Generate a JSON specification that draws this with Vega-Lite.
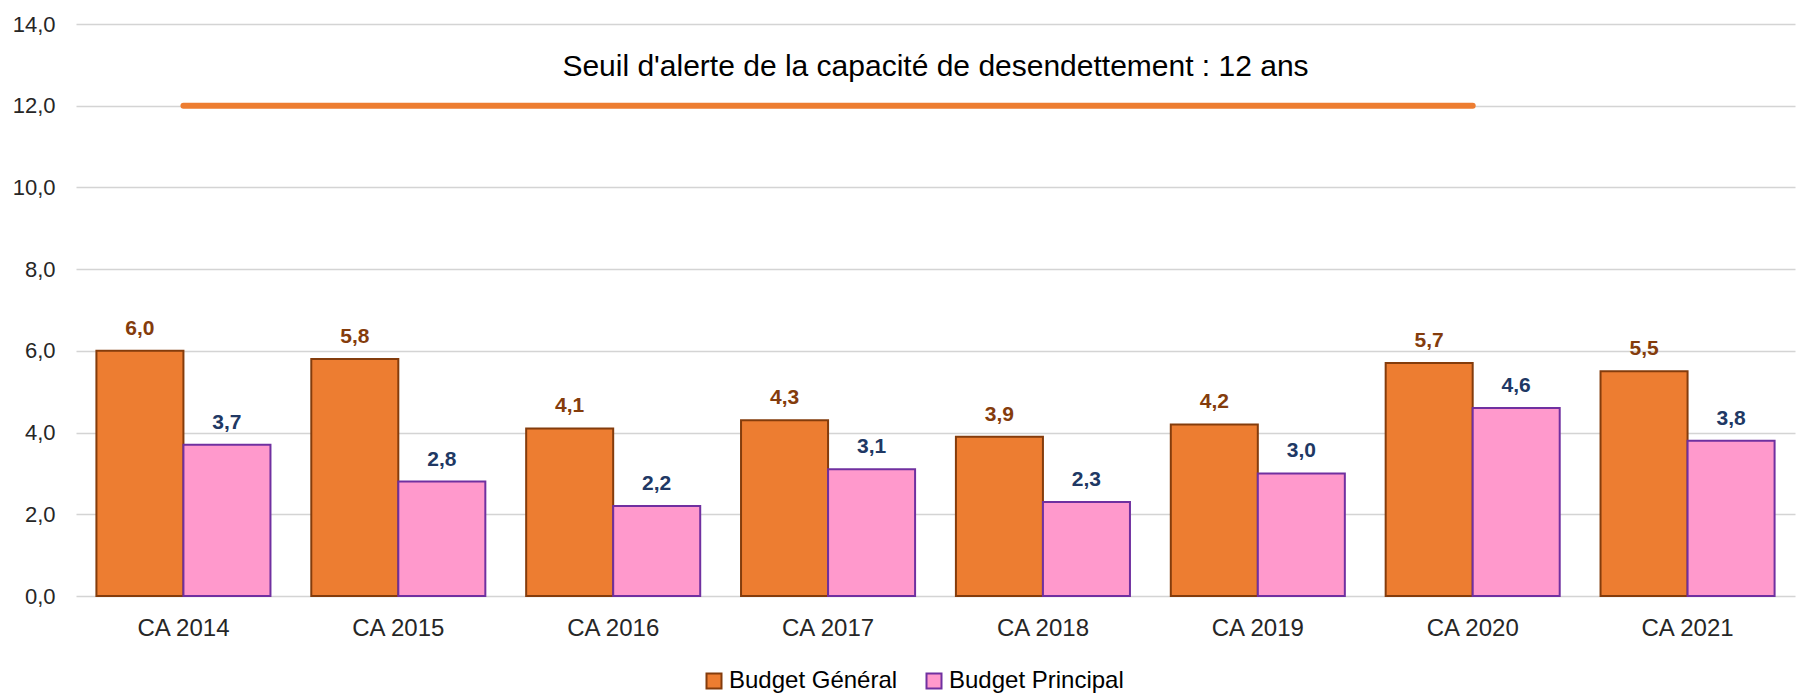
{
  "$schema": "https://vega.github.io/schema/vega-lite/v6.json",
  "autosize": {"type": "none"},
  "width": 1719,
  "height": 572,
  "padding": {"left": 76, "top": 24, "right": 5, "bottom": 103},
  "background": "white",
  "config": {
    "locale": {"number": {"decimal": ",", "thousands": " ", "grouping": [3], "currency": ["", " €"]}},
    "view": {"stroke": null},
    "font": "Liberation Sans"
  },
  "datasets": {
    "bars": [
      {"annee": "CA 2014", "serie": "Budget Général", "valeur": 6.0},
      {"annee": "CA 2014", "serie": "Budget Principal", "valeur": 3.7},
      {"annee": "CA 2015", "serie": "Budget Général", "valeur": 5.8},
      {"annee": "CA 2015", "serie": "Budget Principal", "valeur": 2.8},
      {"annee": "CA 2016", "serie": "Budget Général", "valeur": 4.1},
      {"annee": "CA 2016", "serie": "Budget Principal", "valeur": 2.2},
      {"annee": "CA 2017", "serie": "Budget Général", "valeur": 4.3},
      {"annee": "CA 2017", "serie": "Budget Principal", "valeur": 3.1},
      {"annee": "CA 2018", "serie": "Budget Général", "valeur": 3.9},
      {"annee": "CA 2018", "serie": "Budget Principal", "valeur": 2.3},
      {"annee": "CA 2019", "serie": "Budget Général", "valeur": 4.2},
      {"annee": "CA 2019", "serie": "Budget Principal", "valeur": 3.0},
      {"annee": "CA 2020", "serie": "Budget Général", "valeur": 5.7},
      {"annee": "CA 2020", "serie": "Budget Principal", "valeur": 4.6},
      {"annee": "CA 2021", "serie": "Budget Général", "valeur": 5.5},
      {"annee": "CA 2021", "serie": "Budget Principal", "valeur": 3.8}
    ],
    "seuil": [
      {"debut": "CA 2014", "fin": "CA 2020", "valeur": 12, "texte": "Seuil d'alerte de la capacité de desendettement : 12 ans", "ytexte": 12.95}
    ]
  },
  "layer": [
    {
      "data": {"name": "bars"},
      "mark": {"type": "bar", "strokeWidth": 2},
      "encoding": {
        "x": {
          "field": "annee", "type": "nominal", "title": null,
          "scale": {"paddingInner": 0.19, "paddingOuter": 0.095},
          "axis": {"labelAngle": 0, "labelFontSize": 24, "labelColor": "#262626", "labelPadding": 20, "ticks": false, "tickSize": 0, "domain": false, "grid": false}
        },
        "xOffset": {"field": "serie", "type": "nominal", "scale": {"paddingInner": 0, "paddingOuter": 0}},
        "y": {
          "field": "valeur", "type": "quantitative", "title": null,
          "scale": {"domain": [0, 14], "nice": false},
          "axis": {"values": [0, 2, 4, 6, 8, 10, 12, 14], "format": ".1f", "labelFontSize": 22, "labelColor": "#262626", "labelPadding": 21, "ticks": false, "tickSize": 0, "domain": false, "gridColor": "#D4D4D4", "gridWidth": 1.5}
        },
        "color": {
          "field": "serie", "type": "nominal",
          "scale": {"domain": ["Budget Général", "Budget Principal"], "range": ["#ED7D31", "#FF99CC"]},
          "legend": {"title": null, "orient": "none", "legendX": 626, "legendY": 645, "direction": "horizontal", "symbolType": "square", "symbolSize": 225, "symbolStrokeWidth": 2, "labelFontSize": 24, "labelColor": "#000000", "labelOffset": 3, "labelLimit": 0, "columnPadding": 24}
        },
        "stroke": {
          "field": "serie", "type": "nominal",
          "scale": {"domain": ["Budget Général", "Budget Principal"], "range": ["#843C0C", "#7030A0"]},
          "legend": {"title": null, "orient": "none", "legendX": 626, "legendY": 645, "direction": "horizontal", "symbolType": "square", "symbolSize": 225, "symbolStrokeWidth": 2, "labelFontSize": 24, "labelColor": "#000000", "labelOffset": 3, "labelLimit": 0, "columnPadding": 24}
        }
      }
    },
    {
      "data": {"name": "bars"},
      "mark": {"type": "text", "fontSize": 21, "fontWeight": "bold", "baseline": "bottom", "dy": -12},
      "encoding": {
        "x": {"field": "annee", "type": "nominal"},
        "xOffset": {"field": "serie", "type": "nominal"},
        "y": {"field": "valeur", "type": "quantitative"},
        "text": {"field": "valeur", "type": "quantitative", "format": ".1f"},
        "color": {"condition": {"test": "datum.serie === 'Budget Général'", "value": "#843C0C"}, "value": "#203864"}
      }
    },
    {
      "data": {"name": "seuil"},
      "mark": {"type": "rule", "color": "#ED7D31", "strokeWidth": 6, "strokeCap": "round"},
      "encoding": {
        "x": {"field": "debut", "type": "nominal"},
        "x2": {"field": "fin"},
        "y": {"field": "valeur", "type": "quantitative"}
      }
    },
    {
      "data": {"name": "seuil"},
      "mark": {"type": "text", "fontSize": 30, "color": "#000000", "baseline": "middle", "align": "center"},
      "encoding": {
        "y": {"field": "ytexte", "type": "quantitative"},
        "text": {"field": "texte", "type": "nominal"}
      }
    }
  ]
}
